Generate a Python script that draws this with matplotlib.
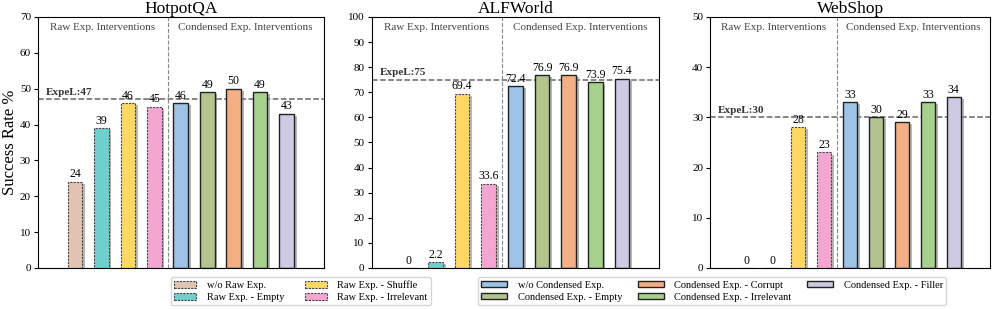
import numpy as np
import matplotlib.pyplot as plt
import matplotlib.patheffects as pe
from matplotlib.patches import Patch

plt.rcParams['font.family'] = ['Liberation Serif', 'DejaVu Serif']

labels = ['w/o Raw Exp.', 'Raw Exp. - Empty', 'Raw Exp. - Shuffle', 'Raw Exp. - Irrelevant',
          'w/o Condensed Exp.', 'Condensed Exp. - Empty', 'Condensed Exp. - Corrupt',
          'Condensed Exp. - Irrelevant', 'Condensed Exp. - Filler']
colors = ['#e0c3b0', '#70cfcc', '#fdd865', '#f4a6d3',
          '#9dc3e6', '#b4c48f', '#f3b084', '#a9d18e', '#cfcae3']

titles = ['HotpotQA', 'ALFWorld', 'WebShop']
hotpot = [24, 39, 46, 45, 46, 49, 50, 49, 43]
alfworld = [0, 2.2, 69.4, 33.6, 72.4, 76.9, 76.9, 73.9, 75.4]
webshop = [0, 0, 28, 23, 33, 30, 29, 33, 34]
expel = [47, 75, 30]
ymax = [70, 100, 50]

fig = plt.figure(figsize=(9.96, 3.09), dpi=100)
boxes = [[0.038, 0.133, 0.287, 0.812],
         [0.373, 0.133, 0.289, 0.812],
         [0.713, 0.133, 0.281, 0.812]]

shadow = [pe.SimplePatchShadow(offset=(2, -1.5), shadow_rgbFace='#888888', alpha=0.6), pe.Normal()]

x = np.arange(9)
for i, vals in enumerate([hotpot, alfworld, webshop]):
    ax = fig.add_axes(boxes[i])
    for j in range(9):
        if j < 4:
            b = ax.bar(x[j], vals[j], width=0.55, color=colors[j], edgecolor='#444444',
                       linestyle=(0, (2, 1)), linewidth=0.8, path_effects=shadow)
        else:
            b = ax.bar(x[j], vals[j], width=0.55, color=colors[j], edgecolor='#222222',
                       linewidth=1.0, path_effects=shadow)
        ax.bar_label(b, fmt='%g', padding=1, fontsize=8.5)
    ax.axhline(expel[i], ls='--', color='#666666', lw=1.1, zorder=0)
    ax.text(-1.1, expel[i] + ymax[i] * 0.01, 'ExpeL:%d' % expel[i], fontsize=8,
            fontweight='bold', color='#333333', va='bottom')
    ax.axvline(3.5, ls='--', color='#888888', lw=0.8)
    ax.text(1.05, ymax[i] * 0.975, 'Raw Exp. Interventions', ha='center', va='top',
            fontsize=8, color='#444444')
    ax.text(6.45, ymax[i] * 0.975, 'Condensed Exp. Interventions', ha='center', va='top',
            fontsize=8, color='#444444')
    ax.set_xlim(-1.4, 9.4)
    ax.set_ylim(0, ymax[i])
    ax.set_yticks(np.arange(0, ymax[i] + 1, 10))
    ax.set_xticks([])
    ax.tick_params(axis='y', labelsize=8, length=3, pad=2)
    ax.set_title(titles[i], fontsize=12.5, pad=2)
    if i == 0:
        ax.set_ylabel('Success Rate %', fontsize=12)
        ax.yaxis.set_label_coords(-0.068, 0.5)

raw_handles = [Patch(facecolor=colors[j], edgecolor='#444444', linestyle=(0, (2, 1)),
                     linewidth=0.8, label=labels[j]) for j in [0, 1, 2, 3]]
cond_handles = [Patch(facecolor=colors[j], edgecolor='#222222', linewidth=1.0,
                      label=labels[j]) for j in [4, 5, 6, 7, 8]]

fig.legend(handles=raw_handles, loc='center', bbox_to_anchor=(0.302, 0.058), ncol=2,
           fontsize=7.5, frameon=True, handlelength=2.1, handleheight=0.6,
           handletextpad=1.0, columnspacing=2.0, labelspacing=0.3, borderpad=0.3,
           fancybox=True, edgecolor='#cccccc')
fig.legend(handles=cond_handles, loc='center', bbox_to_anchor=(0.715, 0.058), ncol=3,
           fontsize=7.5, frameon=True, handlelength=2.5, handleheight=0.6,
           handletextpad=1.0, columnspacing=1.5, labelspacing=0.3, borderpad=0.3,
           fancybox=True, edgecolor='#cccccc')

fig.savefig('out.png', dpi=100)
